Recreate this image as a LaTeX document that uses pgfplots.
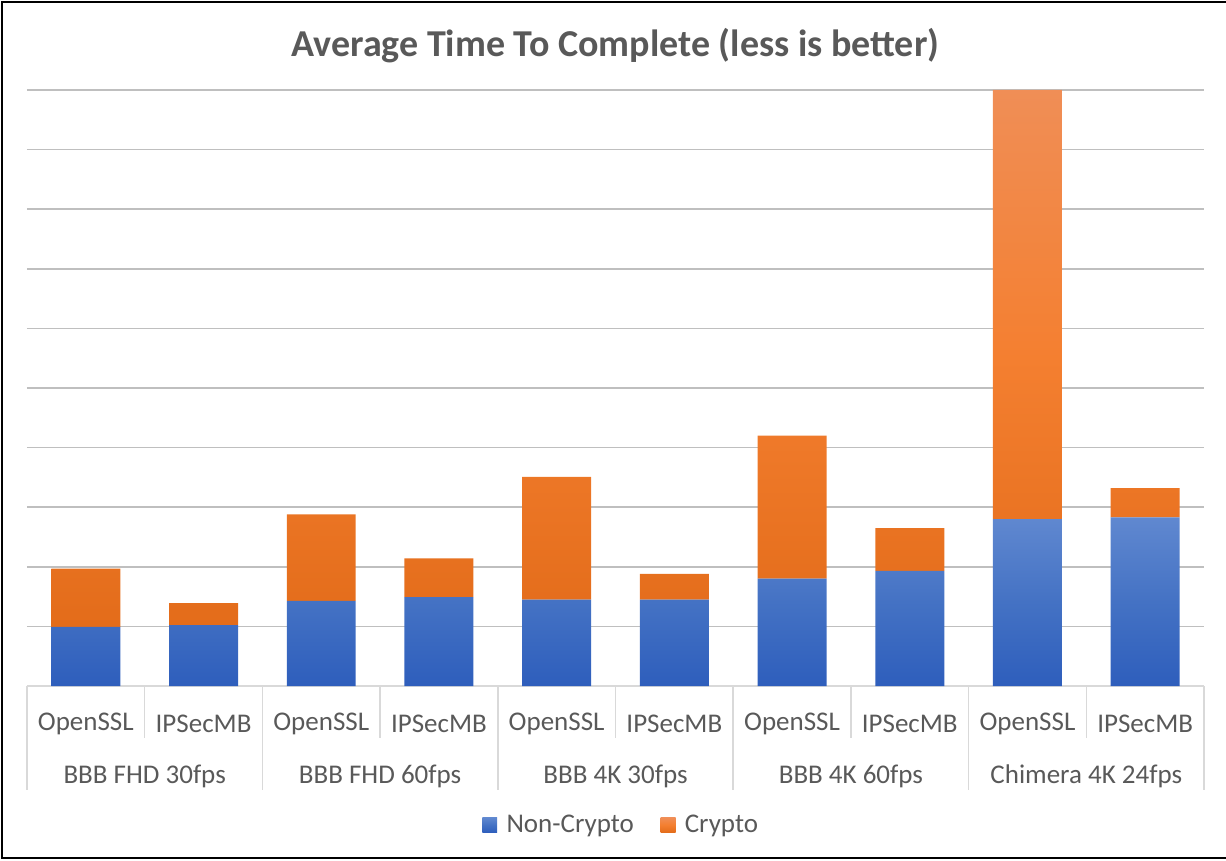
\documentclass[border=0pt]{standalone}
\usepackage{pgfplots}
\pgfplotsset{compat=1.18}
\usepackage{fontspec}
\setmainfont{Carlito}
\definecolor{txt}{HTML}{595959}
\definecolor{grid}{HTML}{D9D9D9}
\definecolor{bTop}{HTML}{6088D0}
\definecolor{bMid}{HTML}{4472C4}
\definecolor{bBot}{HTML}{2E5EBC}
\definecolor{oTop}{HTML}{F08E56}
\definecolor{oMid}{HTML}{F47F30}
\definecolor{oBot}{HTML}{E36C1A}
\definecolor{bLeg}{HTML}{4472C4}
\definecolor{oLeg}{HTML}{ED7D31}
\pgfplotstableread{
x non crypto
0 0.99 0.98
1 1.02 0.37
2 1.43 1.45
3 1.49 0.65
4 1.45 2.06
5 1.45 0.43
6 1.80 2.40
7 1.93 0.72
8 2.80 7.20
9 2.83 0.49
}\data
\begin{document}
\begin{tikzpicture}[lab/.style={text=txt, font=\fontsize{20.25}{22}\selectfont}]
\path[use as bounding box] (0pt,0pt) rectangle (919.5pt,645pt);
\draw[black, line width=1.6pt] (1.5pt,1.5pt) rectangle (930pt,643.5pt);
\begin{axis}[
  at={(20.25pt,130.5pt)}, anchor=south west,
  scale only axis, width=882.75pt, height=447pt,
  xmin=-0.5, xmax=9.5, ymin=0, ymax=10,
  ybar stacked, bar width=0.586,
  axis line style={draw=none},
  xtick=\empty, ytick={1,2,3,4,5,6,7,8,9,10}, yticklabels={},
  major tick length=0pt,
  ymajorgrids, grid style={grid, line width=1.1pt},
  clip=false,
  title={\bfseries Average Time To Complete (less is better)},
  title style={at={(0.5,1)}, anchor=center, yshift=27.5pt, font=\fontsize{28.5}{30}\selectfont, text=txt},
  legend style={at={(0.5,0)}, anchor=center, xshift=4.5pt, yshift=-104.25pt, draw=none, fill=none,
    legend columns=2, font=\fontsize{20.25}{22}\selectfont, text=txt,
    /tikz/every odd column/.append style={column sep=5pt},
    /tikz/every even column/.append style={column sep=18pt}},
]
\addplot[draw=none, top color=bTop, bottom color=bBot, middle color=bMid,
  legend image code/.code={\fill[bLeg] (0pt,-5.6pt) rectangle (11.2pt,5.6pt);}]
  table[x=x, y=non] {\data};
\addplot[draw=none, top color=oTop, bottom color=oBot, middle color=oMid,
  legend image code/.code={\fill[oLeg] (0pt,-5.6pt) rectangle (11.2pt,5.6pt);}]
  table[x=x, y=crypto] {\data};
\legend{Non-Crypto, Crypto}
\draw[grid, line width=1.1pt] (axis cs:-0.5,0) -- (axis cs:9.5,0);
\pgfplotsinvokeforeach{-0.5,1.5,3.5,5.5,7.5,9.5}{
  \draw[grid, line width=1.1pt] (axis cs:#1,0) -- ++(0pt,-78pt);
}
\pgfplotsinvokeforeach{0.5,2.5,4.5,6.5,8.5}{
  \draw[grid, line width=1.1pt] (axis cs:#1,0) -- ++(0pt,-39pt);
}
\pgfplotsinvokeforeach{0,2,4,6,8}{
  \node[lab, yshift=-28.5pt] at (axis cs:#1,0) {OpenSSL};
}
\pgfplotsinvokeforeach{1,3,5,7,9}{
  \node[lab, yshift=-28.5pt] at (axis cs:#1,0) {IPSecMB};
}
\node[lab, yshift=-67.5pt] at (axis cs:0.5,0) {BBB FHD 30fps};
\node[lab, yshift=-67.5pt] at (axis cs:2.5,0) {BBB FHD 60fps};
\node[lab, yshift=-67.5pt] at (axis cs:4.5,0) {BBB 4K 30fps};
\node[lab, yshift=-67.5pt] at (axis cs:6.5,0) {BBB 4K 60fps};
\node[lab, yshift=-67.5pt] at (axis cs:8.5,0) {Chimera 4K 24fps};
\end{axis}
\end{tikzpicture}
\end{document}
